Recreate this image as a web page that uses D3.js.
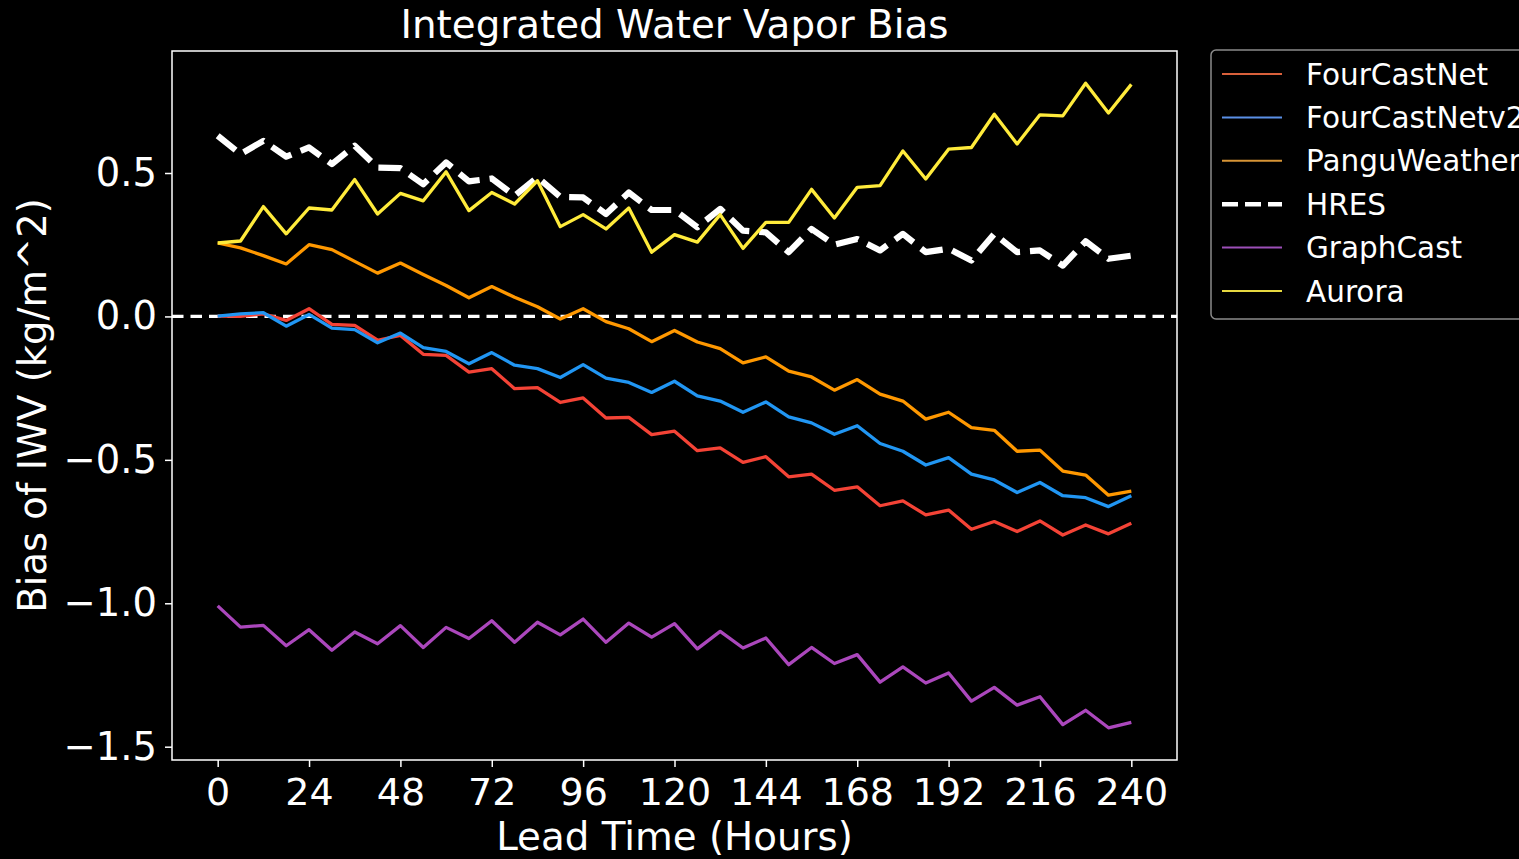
<!DOCTYPE html>
<html>
<head>
<meta charset="utf-8">
<script src="https://cdn.jsdelivr.net/npm/d3@7"></script>
<style>
  html, body { margin: 0; padding: 0; background: #000; overflow: hidden; }
  svg { display: block; }
  text { font-family: "DejaVu Sans", sans-serif; fill: #fff; }
</style>
</head>
<body>
<svg id="chart" width="1519" height="859"></svg>
<script>
// ---- Data ----
const leadTimes = d3.range(0, 241, 6);
const xTicks = [0, 24, 48, 72, 96, 120, 144, 168, 192, 216, 240];
const yTicks = [0.5, 0.0, -0.5, -1.0, -1.5];
const seriesNames = ["FourCastNet", "FourCastNetv2", "PanguWeather", "HRES", "GraphCast", "Aurora"];

const fourCastNet = [0.001, 0.0, 0.009, -0.014, 0.027, -0.028, -0.031, -0.083, -0.066, -0.132, -0.136, -0.194, -0.182,
  -0.252, -0.248, -0.300, -0.284, -0.354, -0.352, -0.412, -0.400, -0.468, -0.458, -0.509, -0.489, -0.559, -0.550, -0.606,
  -0.594, -0.660, -0.643, -0.692, -0.675, -0.742, -0.715, -0.750, -0.713, -0.762, -0.727, -0.758, -0.721];
const fourCastNetv2 = [0.001, 0.009, 0.013, -0.034, 0.007, -0.041, -0.046, -0.092, -0.058, -0.109, -0.122, -0.165, -0.126,
  -0.170, -0.182, -0.213, -0.168, -0.215, -0.230, -0.265, -0.226, -0.277, -0.295, -0.334, -0.298, -0.350, -0.371, -0.411,
  -0.381, -0.443, -0.470, -0.518, -0.492, -0.550, -0.570, -0.614, -0.579, -0.625, -0.632, -0.663, -0.625];
const panguWeather = [0.256, 0.239, 0.212, 0.183, 0.250, 0.233, 0.192, 0.151, 0.186, 0.146, 0.108, 0.065, 0.104,
  0.067, 0.034, -0.009, 0.027, -0.018, -0.043, -0.088, -0.049, -0.089, -0.112, -0.162, -0.141, -0.191, -0.211, -0.257,
  -0.220, -0.271, -0.295, -0.358, -0.334, -0.388, -0.397, -0.470, -0.466, -0.539, -0.553, -0.623, -0.609];
const hres = [0.630, 0.566, 0.612, 0.557, 0.589, 0.531, 0.595, 0.519, 0.517, 0.461, 0.537, 0.471, 0.481,
  0.421, 0.485, 0.417, 0.415, 0.357, 0.432, 0.371, 0.371, 0.311, 0.375, 0.299, 0.293, 0.224, 0.305, 0.250,
  0.270, 0.230, 0.288, 0.224, 0.236, 0.195, 0.288, 0.224, 0.230, 0.177, 0.262, 0.201, 0.212];
const graphCast = [-1.009, -1.083, -1.077, -1.148, -1.092, -1.164, -1.100, -1.141, -1.078, -1.154, -1.084, -1.123, -1.061,
  -1.136, -1.066, -1.110, -1.055, -1.136, -1.069, -1.118, -1.071, -1.159, -1.098, -1.156, -1.121, -1.214, -1.154, -1.210,
  -1.179, -1.275, -1.222, -1.278, -1.243, -1.341, -1.293, -1.355, -1.326, -1.423, -1.373, -1.434, -1.415];
const aurora = [0.256, 0.263, 0.383, 0.288, 0.378, 0.371, 0.477, 0.357, 0.429, 0.403, 0.504, 0.369, 0.432,
  0.392, 0.473, 0.313, 0.355, 0.305, 0.378, 0.224, 0.285, 0.259, 0.355, 0.237, 0.328, 0.328, 0.443, 0.343,
  0.450, 0.456, 0.577, 0.479, 0.583, 0.589, 0.705, 0.601, 0.703, 0.699, 0.813, 0.709, 0.809];

const seriesValues = [fourCastNet, fourCastNetv2, panguWeather, hres, graphCast, aurora];

// ---- Styles ----
const lineColors = ["#f44336", "#2196f3", "#ff9800", "#ffffff", "#ab47bc", "#ffeb3b"];
const legendColors = ["#d9603b", "#5a8fe6", "#d79536", "#ffffff", "#9c4fb8", "#e6d840"];

const svg = d3.select("#chart");
svg.append("rect").attr("width", 1519).attr("height", 859).attr("fill", "#000");

const plot = { left: 172, right: 1177, top: 51, bottom: 760 };

const xMin = d3.min(leadTimes), xMax = d3.max(leadTimes);
const xPad = (xMax - xMin) * 0.05;
const allVals = seriesValues.flat();
const yMin = d3.min(allVals), yMax = d3.max(allVals);
const yPad = (yMax - yMin) * 0.05;

const x = d3.scaleLinear().domain([xMin - xPad, xMax + xPad]).range([plot.left, plot.right]);
const y = d3.scaleLinear().domain([yMin - yPad, yMax + yPad]).range([plot.bottom, plot.top]);

const fmtY = v => (v < 0 ? "\u2212" : "") + Math.abs(v).toFixed(1);

// clip
svg.append("clipPath").attr("id", "clip").append("rect")
  .attr("x", plot.left).attr("y", plot.top)
  .attr("width", plot.right - plot.left).attr("height", plot.bottom - plot.top);

const g = svg.append("g").attr("clip-path", "url(#clip)");

// zero line
g.append("line")
  .attr("x1", plot.left).attr("x2", plot.right)
  .attr("y1", y(0)).attr("y2", y(0))
  .attr("stroke", "#fff").attr("stroke-width", 3.2)
  .attr("stroke-dasharray", "11.5,7");

const line = d3.line().x((d, i) => x(leadTimes[i])).y(d => y(d));

seriesNames.forEach((name, k) => {
  const isHres = name === "HRES";
  g.append("path")
    .datum(seriesValues[k])
    .attr("d", line)
    .attr("fill", "none")
    .attr("stroke", lineColors[k])
    .attr("stroke-width", isHres ? 6.2 : 3.3)
    .attr("stroke-dasharray", isHres ? "23,10" : null)
    .attr("stroke-linejoin", "round")
    .attr("stroke-linecap", "butt");
});

// axes frame
svg.append("rect")
  .attr("x", plot.left).attr("y", plot.top)
  .attr("width", plot.right - plot.left).attr("height", plot.bottom - plot.top)
  .attr("fill", "none").attr("stroke", "#fff").attr("stroke-width", 1.5);

// x axis
const xAxis = svg.append("g").attr("transform", `translate(0,${plot.bottom})`)
  .call(d3.axisBottom(x).tickValues(xTicks).tickSize(7).tickPadding(11).tickFormat(d3.format("d")));
xAxis.select(".domain").remove();
xAxis.selectAll("line").attr("stroke", "#fff").attr("stroke-width", 1.5);
xAxis.selectAll("text").attr("fill", "#fff").style("font-size", "38px").style("font-family", "DejaVu Sans");

// y axis
const yAxis = svg.append("g").attr("transform", `translate(${plot.left},0)`)
  .call(d3.axisLeft(y).tickValues(yTicks).tickSize(7).tickPadding(8).tickFormat(fmtY));
yAxis.select(".domain").remove();
yAxis.selectAll("line").attr("stroke", "#fff").attr("stroke-width", 1.5);
yAxis.selectAll("text").attr("fill", "#fff").style("font-size", "38.5px").style("font-family", "DejaVu Sans");

// titles
svg.append("text").attr("x", (plot.left + plot.right) / 2).attr("y", 38)
  .attr("text-anchor", "middle").style("font-size", "38.8px").text("Integrated Water Vapor Bias");
svg.append("text").attr("x", (plot.left + plot.right) / 2).attr("y", 850)
  .attr("text-anchor", "middle").style("font-size", "38.8px").text("Lead Time (Hours)");
svg.append("text")
  .attr("transform", `translate(46,${(plot.top + plot.bottom) / 2}) rotate(-90)`)
  .attr("text-anchor", "middle").style("font-size", "38.5px").text("Bias of IWV (kg/m^2)");

// legend
const legend = svg.append("g");
legend.append("rect")
  .attr("x", 1211).attr("y", 50).attr("width", 330).attr("height", 269)
  .attr("rx", 5).attr("ry", 5)
  .attr("fill", "#000").attr("stroke", "#8a8a8a").attr("stroke-width", 1.5);

seriesNames.forEach((name, k) => {
  const cy = 74 + k * 43.4;
  const isHres = name === "HRES";
  legend.append("line")
    .attr("x1", 1222).attr("x2", 1282).attr("y1", cy).attr("y2", cy)
    .attr("stroke", legendColors[k])
    .attr("stroke-width", isHres ? 4.5 : 2)
    .attr("stroke-dasharray", isHres ? "16,7" : null);
  legend.append("text")
    .attr("x", 1306).attr("y", cy).attr("dy", "0.36em")
    .style("font-size", "29.5px").text(name);
});
</script>
</body>
</html>
